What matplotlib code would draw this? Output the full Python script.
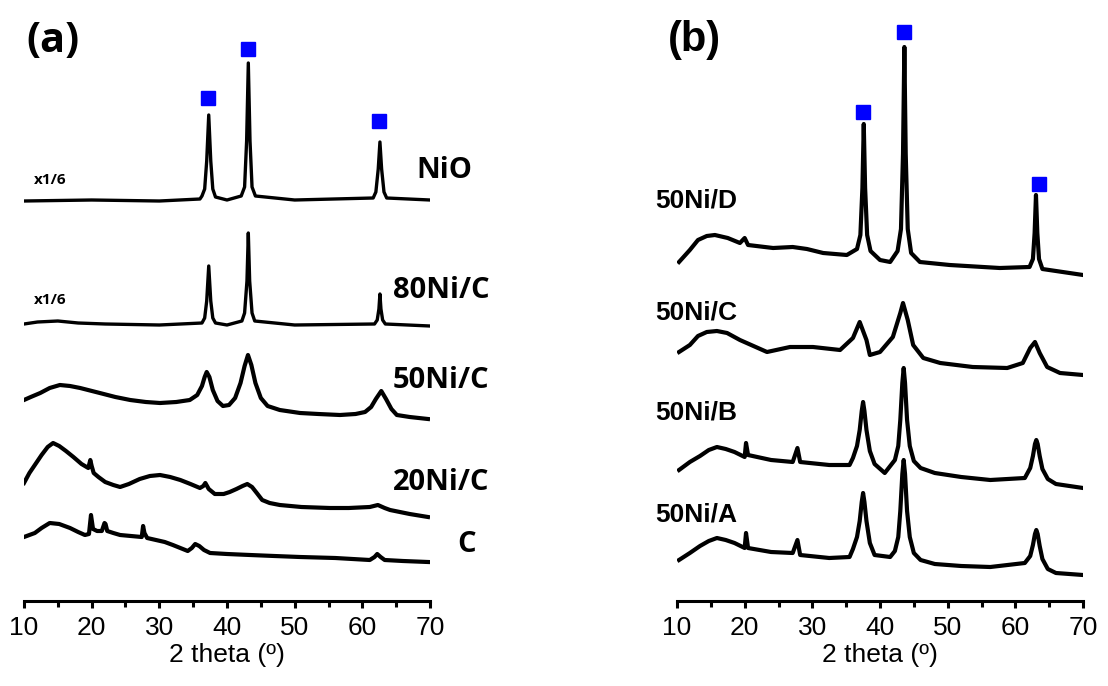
import matplotlib.pyplot as plt
from matplotlib.ticker import MultipleLocator

# ---- panel (a): stacked XRD patterns, intensity already offset ----
nio_x = [10, 20, 30, 36.0, 36.3, 36.7, 37.0, 37.3, 37.6, 37.9, 38.3, 40, 42.1, 42.6, 42.9, 43.15, 43.4, 43.7, 44.2, 50, 61.6, 62.0, 62.35, 62.6, 62.85, 63.2, 63.6, 70]
nio_y = [400, 401, 400, 402, 405, 412, 440, 486, 440, 412, 404, 401, 405, 414, 460, 538, 460, 414, 405, 401, 403, 409, 432, 459, 432, 409, 403, 401]

c80_x = [10, 12, 15, 18, 22, 30, 36.3, 36.7, 37.0, 37.3, 37.6, 37.9, 38.3, 40, 42.2, 42.6, 42.95, 43.15, 43.35, 43.7, 44.1, 50, 61.8, 62.2, 62.45, 62.6, 62.75, 63.0, 63.4, 70]
c80_y = [277, 279, 280, 278, 277, 276, 278, 283, 300, 335, 300, 283, 278, 276, 280, 288, 320, 368, 320, 288, 280, 276, 277, 281, 292, 307, 292, 281, 277, 275]

c50_x = [10, 11, 12.4, 13.8, 15.3, 16.8, 18.3, 21.2, 23.5, 25.7, 28, 30.1, 32.5, 34.5, 35.6, 36.3, 36.7, 37.0, 37.4, 37.9, 38.6, 39.4, 40.3, 41.2, 42.0, 42.6, 43.1, 43.6, 44.2, 45.0, 46.0, 47.8, 50.8, 53.5, 56.7, 59, 60.4, 61.3, 62.0, 62.8, 63.5, 64.3, 65.1, 67, 69.7]
c50_y = [201, 204, 208, 213, 216, 215, 213, 208, 204, 201, 199, 198, 199, 201, 206, 215, 224, 229, 224, 211, 200, 195, 196, 203, 218, 235, 246, 236, 218, 203, 195, 191, 188, 187, 186, 187, 189, 194, 202, 210, 202, 192, 186, 184, 182]

c20_x = [10, 10.8, 11.6, 12.6, 13.5, 14.3, 15.2, 16.2, 17.3, 18.5, 19.5, 19.8, 20.0, 20.3, 21.0, 22.0, 23.2, 24.2, 25.5, 27.1, 28.6, 30.1, 31.6, 33.1, 34.6, 36.0, 36.5, 36.8, 37.3, 38.2, 39.5, 40.4, 41.4, 42.3, 43.0, 43.7, 44.4, 45.2, 46.3, 47.8, 51, 55.2, 58, 61.1, 62.3, 63.3, 64.1, 67, 69.7]
c20_y = [118, 128, 136, 146, 154, 158, 155, 150, 144, 137, 133, 141, 135, 128, 124, 119, 116, 114, 117, 122, 125, 126, 124, 121, 117, 113, 115, 118, 112, 107, 107, 109, 112, 115, 117, 114, 108, 101, 98, 96, 94, 93, 93, 94, 96, 93, 91, 87, 84]

carbon_x = [10, 10.8, 11.6, 12.6, 13.8, 15.2, 16.8, 18.0, 19.0, 19.6, 19.9, 20.2, 20.8, 21.5, 21.9, 22.05, 22.3, 23.2, 24.2, 25.8, 27.4, 27.6, 27.8, 28.2, 29.5, 30.8, 32.0, 33.1, 34.2, 34.8, 35.3, 35.9, 36.6, 37.5, 40, 43.4, 47, 50.8, 56, 61.1, 61.8, 62.2, 62.7, 63.3, 66, 69.7]
carbon_y = [64, 66, 68, 73, 78, 77, 73, 69, 66, 67, 86, 72, 70, 70, 78, 77, 70, 68, 66, 65, 64, 75, 68, 63, 61, 59, 56, 53, 50, 53, 57, 55, 51, 48, 47, 46, 45, 44, 43, 41, 44, 47, 44, 41, 40, 39]

# NiO reflections (blue squares), panel (a)
mark_a_x = [37.2, 43.1, 62.5]
mark_a_y = [503, 552, 480]

# ---- panel (b) ----
d_x = [10.3, 11.9, 13.1, 14.4, 15.6, 17.5, 19.3, 20.0, 20.5, 24.2, 27.1, 29.2, 31.6, 35.1, 36.6, 37.1, 37.4, 37.6, 37.8, 38.1, 38.6, 40.0, 41.5, 42.6, 43.1, 43.4, 43.6, 43.8, 44.1, 44.6, 45.9, 50.3, 57.7, 62.1, 62.6, 62.85, 63.05, 63.25, 63.5, 64.0, 70]
d_y = [339, 351, 361, 365, 366, 363, 358, 363, 356, 353, 354, 352, 348, 346, 352, 366, 413, 477, 413, 366, 350, 341, 339, 350, 372, 447, 554, 447, 372, 348, 339, 336, 333, 334, 342, 368, 406, 368, 342, 332, 326]

nc_x = [10.3, 11.9, 13.1, 14.4, 15.9, 17.4, 19.3, 23.3, 26.7, 30.1, 34.1, 36.0, 37.0, 38.0, 38.5, 40.0, 41.9, 43.0, 43.4, 44.1, 44.9, 46.4, 48.9, 53.7, 58.8, 61.1, 62.2, 62.9, 63.6, 64.7, 66.6, 70]
nc_y = [249, 256, 265, 269, 270, 268, 261, 249, 254, 254, 251, 263, 279, 261, 246, 249, 264, 288, 298, 281, 256, 243, 238, 234, 233, 238, 253, 259, 248, 234, 228, 226]

nb_x = [10.3, 11.9, 13.4, 14.7, 15.9, 17.2, 18.5, 20.0, 20.2, 20.5, 23.9, 27.1, 27.8, 28.2, 32.5, 35.5, 36.0, 36.6, 37.0, 37.3, 37.5, 37.7, 38.0, 38.5, 39.2, 40.7, 42.2, 42.7, 43.0, 43.3, 43.5, 43.7, 44.0, 44.4, 45.0, 46.0, 48.1, 52, 56.3, 61.4, 62.2, 62.6, 62.9, 63.1, 63.3, 63.6, 64.0, 64.8, 66, 70]
nb_y = [131, 139, 145, 151, 154, 152, 149, 144, 158, 146, 141, 139, 153, 139, 136, 136, 143, 155, 171, 190, 199, 190, 171, 150, 137, 128, 141, 155, 181, 218, 233, 218, 181, 155, 140, 133, 128, 124, 121, 123, 133, 145, 157, 161, 157, 145, 132, 122, 117, 113]

na_x = [10.3, 11.9, 13.4, 14.7, 15.9, 17.2, 18.5, 20.0, 20.2, 20.5, 23.9, 27.1, 27.8, 28.2, 32.5, 35.5, 36.0, 36.6, 37.0, 37.3, 37.5, 37.7, 38.0, 38.5, 39.2, 41.5, 42.2, 42.7, 43.0, 43.3, 43.5, 43.7, 44.0, 44.4, 45.0, 46.0, 48.1, 52, 56.3, 61.4, 62.2, 62.6, 62.9, 63.1, 63.3, 63.6, 64.0, 64.8, 66, 70]
na_y = [41, 48, 55, 60, 63, 61, 58, 53, 68, 53, 49, 48, 61, 46, 43, 44, 52, 64, 80, 99, 108, 99, 80, 58, 46, 44, 50, 64, 90, 127, 141, 127, 90, 64, 48, 41, 37, 35, 34, 38, 45, 56, 67, 71, 67, 55, 42, 32, 28, 26]

mark_b_x = [37.5, 43.5, 63.5]
mark_b_y = [489, 569, 417]

W, H = 1108, 686
fig = plt.figure(figsize=(W / 100, H / 100), dpi=100)
ax1 = fig.add_axes([24 / W, 85 / H, 406 / W, 601 / H])
ax2 = fig.add_axes([677 / W, 85 / H, 406 / W, 601 / H])

lw_sharp = 2.4   # crystalline NiO-like patterns
lw_noisy = 3.0   # amorphous / noisy patterns
ax1.plot(nio_x, nio_y, color="k", lw=lw_sharp)
ax1.plot(c80_x, c80_y, color="k", lw=lw_sharp)
ax1.plot(c50_x, c50_y, color="k", lw=lw_noisy)
ax1.plot(c20_x, c20_y, color="k", lw=lw_noisy)
ax1.plot(carbon_x, carbon_y, color="k", lw=lw_noisy)
ax1.plot(mark_a_x, mark_a_y, "s", color="#0000ff", ms=9.5, mec="#0000ff")

ax2.plot(d_x, d_y, color="k", lw=lw_noisy)
ax2.plot(nc_x, nc_y, color="k", lw=lw_noisy)
ax2.plot(nb_x, nb_y, color="k", lw=lw_noisy)
ax2.plot(na_x, na_y, color="k", lw=lw_noisy)
ax2.plot(mark_b_x, mark_b_y, "s", color="#0000ff", ms=9.5, mec="#0000ff")

for ax in (ax1, ax2):
    ax.set_xlim(10, 70)
    ax.set_ylim(0, 601)
    for s in ("left", "right", "top"):
        ax.spines[s].set_visible(False)
    ax.spines["bottom"].set_linewidth(2.2)
    ax.set_yticks([])
    ax.xaxis.set_major_locator(MultipleLocator(10))
    ax.xaxis.set_minor_locator(MultipleLocator(5))
    ax.tick_params(axis="x", which="major", direction="out", length=5, width=2.2, pad=6,
                   labelsize=19)
    ax.tick_params(axis="x", which="minor", direction="out", length=4, width=2.2)
    for lab in ax.get_xticklabels():
        lab.set_fontfamily("Liberation Sans")
    ax.set_xlabel("2 theta (º)", fontsize=19, family="Liberation Sans", labelpad=2)

# sample labels
lab_a = dict(fontsize=21, fontweight="bold", family="Open Sans", va="center", ha="left")
ax1.text(68.0, 431, "NiO", **lab_a)
ax1.text(64.5, 311, "80Ni/C", **lab_a)
ax1.text(64.5, 221, "50Ni/C", **lab_a)
ax1.text(64.5, 119, "20Ni/C", **lab_a)
ax1.text(74.0, 56, "C", **lab_a)
ax1.text(11.5, 421, "x1/6", fontsize=11, fontweight="bold", family="Open Sans", va="center")
ax1.text(11.5, 301, "x1/6", fontsize=11, fontweight="bold", family="Open Sans", va="center")
ax1.text(10.3, 559, "(a)", fontsize=30, fontweight="bold", family="Open Sans", va="center")

lab_b = dict(fontsize=19, fontweight="bold", family="Liberation Sans", va="center", ha="left")
ax2.text(6.8, 401, "50Ni/D", **lab_b)
ax2.text(6.8, 289, "50Ni/C", **lab_b)
ax2.text(6.8, 189, "50Ni/B", **lab_b)
ax2.text(6.8, 86, "50Ni/A", **lab_b)
ax2.text(8.7, 561, "(b)", fontsize=30, fontweight="bold", family="Liberation Sans", va="center")

fig.savefig("out.png", dpi=100)
